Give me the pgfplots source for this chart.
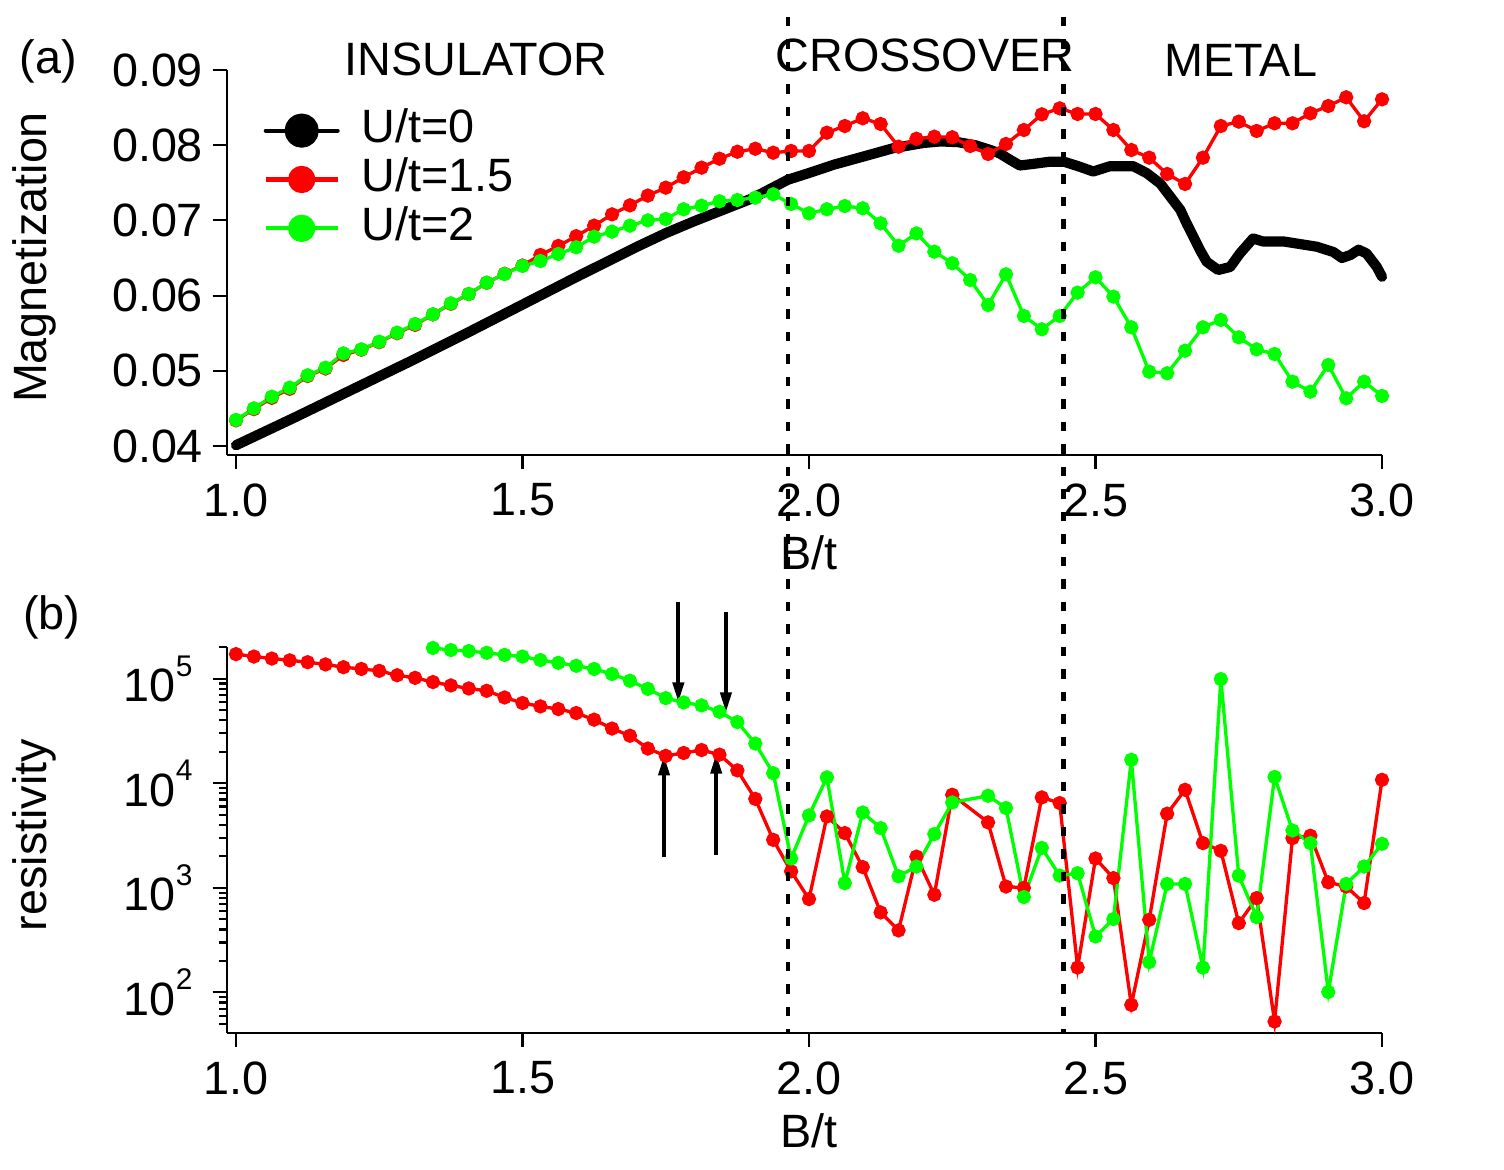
\documentclass[border=0pt]{standalone}
\usepackage{fontspec}
\setmainfont{Liberation Sans}
\usepackage{pgfplots}
\pgfplotsset{compat=1.18}
\usepackage{pgfplotstable}
\usetikzlibrary{arrows.meta}

\definecolor{lime}{rgb}{0,1,0}

% magnetization, U/t = 0
\pgfplotstableread{
B M
1.000 0.0401
1.100 0.0437
1.200 0.0474
1.300 0.0511
1.400 0.0549
1.500 0.0588
1.600 0.0627
1.700 0.0665
1.750 0.0683
1.800 0.0699
1.850 0.0714
1.900 0.0729
1.963 0.0754
2.000 0.0763
2.043 0.0774
2.100 0.0786
2.147 0.0796
2.200 0.0803
2.230 0.0805
2.260 0.0804
2.290 0.0800
2.315 0.0794
2.333 0.0789
2.350 0.0781
2.368 0.0773
2.390 0.0775
2.420 0.0778
2.445 0.0778
2.470 0.0772
2.496 0.0765
2.525 0.0772
2.566 0.0772
2.589 0.0763
2.613 0.0749
2.630 0.0732
2.648 0.0714
2.659 0.0696
2.671 0.0678
2.682 0.0661
2.694 0.0645
2.714 0.0634
2.735 0.0638
2.752 0.0656
2.775 0.0676
2.792 0.0672
2.828 0.0672
2.886 0.0665
2.915 0.0658
2.930 0.0650
2.945 0.0654
2.959 0.0661
2.973 0.0656
2.991 0.0638
3.000 0.0625
}\magzero

% magnetization, U/t = 1.5
\pgfplotstableread{
B M
1.00000 0.0434
1.03125 0.0449
1.06250 0.0464
1.09375 0.0476
1.12500 0.0493
1.15625 0.0503
1.18750 0.0521
1.21875 0.0528
1.25000 0.0538
1.28125 0.0550
1.31250 0.0561
1.34375 0.0575
1.37500 0.0589
1.40625 0.0602
1.43750 0.0617
1.46875 0.0629
1.50000 0.0640
1.53125 0.0654
1.56250 0.0666
1.59375 0.0679
1.62500 0.0693
1.65625 0.0708
1.68750 0.0720
1.71875 0.0733
1.75000 0.07435
1.78125 0.07573
1.81250 0.07701
1.84375 0.0782
1.87500 0.07913
1.90625 0.07953
1.93750 0.0790
1.96875 0.07923
2.00000 0.07923
2.03125 0.08166
2.06250 0.08255
2.09375 0.08358
2.12500 0.08282
2.15625 0.0798
2.18750 0.08086
2.21875 0.08113
2.25000 0.08105
2.28125 0.07989
2.31250 0.07883
2.34375 0.08016
2.37500 0.08202
2.40625 0.08410
2.43750 0.0849
2.46875 0.08415
2.50000 0.08415
2.53125 0.08202
2.56250 0.07936
2.59375 0.07834
2.62500 0.07617
2.65625 0.07484
2.68750 0.07834
2.71875 0.08255
2.75000 0.08313
2.78125 0.08189
2.81250 0.08291
2.84375 0.08291
2.87500 0.08424
2.90625 0.08521
2.93750 0.08637
2.96875 0.08318
3.00000 0.0861
}\magone

% magnetization, U/t = 2
\pgfplotstableread{
B M
1.00000 0.04346
1.03125 0.04501
1.06250 0.04656
1.09375 0.04776
1.12500 0.0494
1.15625 0.05041
1.18750 0.05232
1.21875 0.05285
1.25000 0.05387
1.28125 0.05507
1.31250 0.05622
1.34375 0.05751
1.37500 0.05897
1.40625 0.06021
1.43750 0.06172
1.46875 0.06287
1.50000 0.06394
1.53125 0.0646
1.56250 0.06553
1.59375 0.06642
1.62500 0.06783
1.65625 0.0685
1.68750 0.0693
1.71875 0.0700
1.75000 0.07019
1.78125 0.07148
1.81250 0.07195
1.84375 0.07254
1.87500 0.07271
1.90625 0.07302
1.93750 0.07347
1.96875 0.07218
2.00000 0.07094
2.03125 0.07148
2.06250 0.07191
2.09375 0.07161
2.12500 0.06961
2.15625 0.06663
2.18750 0.06827
2.21875 0.06584
2.25000 0.0643
2.28125 0.06207
2.31250 0.05875
2.34375 0.06283
2.37500 0.05729
2.40625 0.05552
2.43750 0.05729
2.46875 0.06039
2.50000 0.06243
2.53125 0.05986
2.56250 0.05578
2.59375 0.04988
2.62500 0.04967
2.65625 0.05267
2.68750 0.05578
2.71875 0.05676
2.75000 0.05445
2.78125 0.05285
2.81250 0.05223
2.84375 0.04855
2.87500 0.04722
2.90625 0.05077
2.93750 0.04634
2.96875 0.04855
3.00000 0.04665
}\magtwo

% resistivity, U/t = 1.5
\pgfplotstableread{
B R
1.00000 172000
1.03125 163000
1.06250 156000
1.09375 150000
1.12500 144000
1.15625 137000
1.18750 129000
1.21875 124000
1.25000 119000
1.28125 108000
1.31250 102000
1.34375 93000
1.37500 86300
1.40625 80700
1.43750 76700
1.46875 66200
1.50000 58600
1.53125 54400
1.56250 51300
1.59375 47000
1.62500 40600
1.65625 33400
1.68750 28500
1.71875 21500
1.75000 18300
1.78125 19500
1.81250 20800
1.84375 18800
1.87500 13300
1.90625 7100
1.93750 2880
1.96875 1440
2.00000 782
2.03125 4820
2.06250 3340
2.09375 1580
2.12500 582
2.15625 392
2.18750 1990
2.21875 859
2.25000 7770
2.31250 4230
2.34375 1030
2.37500 1000
2.40625 7330
2.43750 6470
2.46875 173
2.50000 1910
2.53125 1240
2.56250 76
2.59375 495
2.62500 5120
2.65625 8670
2.68750 2680
2.71875 2260
2.75000 460
2.78125 798
2.81250 52.7
2.84375 2990
2.87500 3150
2.90625 1130
2.93750 1030
2.96875 716
3.00000 10800
}\resone

% resistivity, U/t = 2
\pgfplotstableread{
B R
1.34375 197000
1.37500 188000
1.40625 184000
1.43750 177000
1.46875 169000
1.50000 163000
1.53125 151000
1.56250 142000
1.59375 133000
1.62500 124000
1.65625 111000
1.68750 95700
1.71875 80000
1.75000 65300
1.78125 59300
1.81250 55600
1.84375 48300
1.87500 38500
1.90625 24000
1.93750 12500
1.96875 1910
2.00000 4930
2.03125 11400
2.06250 1110
2.09375 5260
2.12500 3730
2.15625 1290
2.18750 1600
2.21875 3270
2.25000 6560
2.31250 7600
2.34375 5800
2.37500 817
2.40625 2410
2.43750 1310
2.46875 1380
2.50000 343
2.53125 503
2.56250 16800
2.59375 195
2.62500 1090
2.65625 1090
2.68750 173
2.71875 99300
2.75000 1310
2.78125 525
2.81250 11500
2.84375 3540
2.87500 2680
2.90625 101
2.93750 1090
2.96875 1600
3.00000 2640
}\restwo

\newcommand{\dec}[1]{10\raisebox{7.2pt}{\fontsize{8.5}{9}\selectfont #1}}

\pgfplotsset{
  panel/.style={
    scale only axis, width=11.553cm,
    xmin=0.98377, xmax=3.0,
    axis x line*=bottom, axis y line*=left,
    axis line style={-, line width=0.6pt},
    tick align=outside, major tick length=0.14cm, minor tick length=0.075cm,
    tick style={line width=0.6pt, black},
    xtick={1,1.5,2,2.5,3}, xticklabels={1.0,1.5,2.0,2.5,3.0},
    scaled x ticks=false, scaled y ticks=false,
    tick label style={font=\fontsize{13.3}{16}\selectfont},
    xticklabel style={inner sep=0pt, anchor=north, yshift=-0.14cm},
    yticklabel style={inner sep=0pt, anchor=east},
    clip=false,
    xlabel={B/t},
    every axis x label/.style={at={(axis description cs:0.504,-0.2987)}, anchor=base},
    every axis y label/.style={at={(axis description cs:-0.1558,0.513)}, rotate=90, anchor=base},
  },
  ser/.style={line width=0.95pt, mark=*, mark size=1.55pt, mark options={draw=none}},
  leg/.style={legend image code/.code={%
      \draw[line width=1.15pt] (0mm,0mm) -- (7.2mm,0mm);
      \fill (3.6mm,0mm) circle (1.2mm);}},
}

\begin{document}
\begin{tikzpicture}[font=\fontsize{13.3}{16}\selectfont]
\useasboundingbox (0,0) rectangle (15.04,11.70);

% (a) magnetization
\begin{axis}[panel, at={(2.267cm,7.15cm)}, anchor=south west, height=3.85cm,
  ymin=0.0388, ymax=0.09,
  ytick={0.04,0.05,0.06,0.07,0.08,0.09},
  yticklabels={0.04,0.05,0.06,0.07,0.08,0.09},
  yticklabel style={xshift=-0.09cm},
  ylabel={Magnetization},
  legend cell align=left,
  legend style={draw=none, fill=none, at={(axis cs:1.0471,0.08495)}, anchor=north west,
    inner sep=0pt, row sep=1.4pt,
    nodes={inner sep=0pt, text height=9.6pt, text depth=2.9pt},
    /tikz/every odd column/.append style={column sep=2.2mm}},
]
\addplot[black, line width=2.9pt, line join=round, line cap=round, leg] table[x=B, y=M] {\magzero};
\addlegendentry{U/t=0}
\addplot[red, ser, leg] table[x=B, y=M] {\magone};
\addlegendentry{U/t=1.5}
\addplot[lime, ser, leg] table[x=B, y=M] {\magtwo};
\addlegendentry{U/t=2}
\coordinate (dAt) at (axis cs:1.963,0.0971);
\coordinate (dBt) at (axis cs:2.444,0.0971);
\end{axis}

% (b) resistivity
\begin{axis}[panel, ymode=log, at={(2.267cm,1.373cm)}, anchor=south west, height=3.854cm,
  ymin=41.2, ymax=2e5,
  ytick={1e2,1e3,1e4,1e5},
  yticklabels={\dec{2},\dec{3},\dec{4},\dec{5}},
  minor ytick={50,60,70,80,90,200,300,400,500,600,700,800,900,2000,3000,4000,5000,6000,7000,8000,9000,20000,30000,40000,50000,60000,70000,80000,90000,200000},
  yticklabel style={xshift=-0.196cm},
  ylabel={resistivity},
]
\addplot[red, ser] table[x=B, y=R] {\resone};
\addplot[lime, ser] table[x=B, y=R] {\restwo};
\draw[line width=1.1pt, -{Triangle[length=2.0mm, width=1.1mm]}] (axis cs:1.772,5.44e5) -- (axis cs:1.772,5.93e4);
\draw[line width=1.1pt, -{Triangle[length=2.0mm, width=1.1mm]}] (axis cs:1.855,4.37e5) -- (axis cs:1.855,4.76e4);
\draw[line width=1.1pt, -{Triangle[length=2.0mm, width=1.1mm]}] (axis cs:1.747,1958) -- (axis cs:1.747,1.85e4);
\draw[line width=1.1pt, -{Triangle[length=2.0mm, width=1.1mm]}] (axis cs:1.838,2048) -- (axis cs:1.838,1.92e4);
\coordinate (dAb) at (axis cs:1.963,41.2);
\coordinate (dBb) at (axis cs:2.444,41.2);
\end{axis}

% regime names and panel tags
\node[anchor=base, inner sep=0pt] at (4.76,10.943) {INSULATOR};
\node[anchor=base, inner sep=0pt] at (9.25,10.983) {CROSSOVER};
\node[anchor=base, inner sep=0pt] at (12.408,10.933) {METAL};
\node[anchor=base, inner sep=0pt] at (0.483,10.965) {(a)};
\node[anchor=base, inner sep=0pt] at (0.517,5.40) {(b)};

% regime boundaries through both panels
\draw[line width=1.2pt, dash pattern=on 0.95mm off 1.3mm] (dAt) -- (dAb);
\draw[line width=1.2pt, dash pattern=on 0.95mm off 1.3mm] (dBt) -- (dBb);
\end{tikzpicture}
\end{document}
